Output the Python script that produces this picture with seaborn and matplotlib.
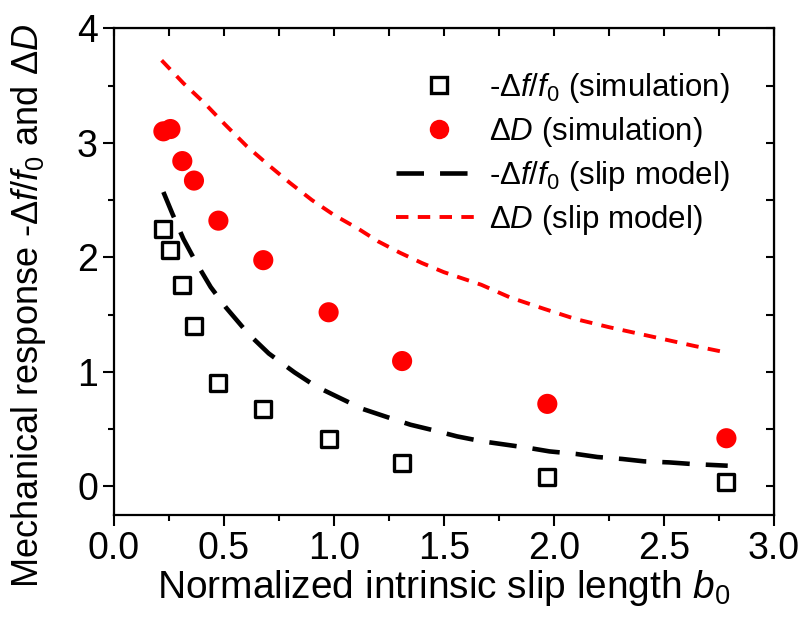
import numpy as np
import pandas as pd
import matplotlib
matplotlib.use("Agg")
import matplotlib.pyplot as plt
import seaborn as sns
from matplotlib.lines import Line2D

# simulation points
b0_sim = [0.225, 0.257, 0.311, 0.364, 0.475, 0.679, 0.976, 1.31, 1.97, 2.784]
df_sim = [2.25, 2.06, 1.76, 1.40, 0.905, 0.672, 0.416, 0.207, 0.085, 0.035]
dD_sim = [3.10, 3.12, 2.84, 2.67, 2.32, 1.975, 1.52, 1.094, 0.72, 0.42]

# slip model curves
b0_df_model = [0.225, 0.266, 0.316, 0.372, 0.44, 0.51, 0.612, 0.704, 0.821, 0.918,
               1.034, 1.132, 1.246, 1.348, 1.46, 1.56, 1.674, 1.887, 1.98, 2.10,
               2.198, 2.31, 2.41, 2.524, 2.626, 2.79]
df_model = [2.57, 2.38, 2.16, 1.96, 1.74, 1.56, 1.33, 1.16, 0.995, 0.873,
            0.765, 0.675, 0.602, 0.538, 0.486, 0.436, 0.393, 0.335, 0.305, 0.283,
            0.256, 0.239, 0.218, 0.209, 0.195, 0.18]

b0_dD_model = [0.217, 0.316, 0.41, 0.505, 0.604, 0.70, 0.80, 0.90, 1.0, 1.11,
               1.20, 1.30, 1.40, 1.50, 1.67, 1.80, 1.955, 2.10, 2.25, 2.44,
               2.64, 2.78]
dD_model = [3.72, 3.52, 3.35, 3.16, 2.97, 2.81, 2.65, 2.50, 2.37, 2.25,
            2.14, 2.04, 1.95, 1.87, 1.76, 1.65, 1.55, 1.46, 1.39, 1.31,
            1.225, 1.17]

lab_df_sim = r"-$\Delta f/f_0$ (simulation)"
lab_dD_sim = r"$\Delta D$ (simulation)"
lab_df_mod = r"-$\Delta f/f_0$ (slip model)"
lab_dD_mod = r"$\Delta D$ (slip model)"

sns.set_style("ticks")
plt.rcParams["font.family"] = ["Liberation Sans", "DejaVu Sans"]
plt.rcParams["mathtext.fontset"] = "custom"
plt.rcParams["mathtext.rm"] = "Liberation Sans"
plt.rcParams["mathtext.it"] = "Liberation Sans:italic"
plt.rcParams["mathtext.bf"] = "Liberation Sans:bold"
for key in ["text.color", "axes.labelcolor", "axes.edgecolor",
            "xtick.color", "ytick.color"]:
    plt.rcParams[key] = "black"

fig = plt.figure(figsize=(8.02, 6.28), dpi=100)
ax = fig.add_axes([0.142, 0.18, 0.823, 0.775])

sim = pd.DataFrame({"b0": b0_sim, "df": df_sim, "dD": dD_sim})
mod_df = pd.DataFrame({"b0": b0_df_model, "df": df_model})
mod_dD = pd.DataFrame({"b0": b0_dD_model, "dD": dD_model})

black_ls = (0, (6.0, 3.5))
red_ls = (0, (3.2, 2.4))

sns.lineplot(data=mod_df, x="b0", y="df", ax=ax, color="black", lw=3.3,
             linestyle=black_ls, legend=False)
sns.lineplot(data=mod_dD, x="b0", y="dD", ax=ax, color="#ff0000", lw=2.8,
             linestyle=red_ls, legend=False)
sns.scatterplot(data=sim, x="b0", y="df", ax=ax, marker="s", s=140,
                facecolor="white", edgecolor="black", linewidth=2.4,
                legend=False, zorder=3)
sns.scatterplot(data=sim, x="b0", y="dD", ax=ax, marker="o", s=210,
                color="#ff0000", edgecolor="none", legend=False, zorder=3)

ax.set_xlim(0, 3.0)
ax.set_ylim(-0.25, 4)
ax.set_xticks(np.arange(0, 3.01, 0.5))
ax.set_xticks(np.arange(0, 3.01, 0.25), minor=True)
ax.set_yticks([0, 1, 2, 3, 4])
ax.set_yticks(np.arange(0, 4.01, 0.5), minor=True)
ax.tick_params(which="major", direction="out", length=8, width=1.5,
               labelsize=27, pad=3.5)
ax.tick_params(which="minor", direction="out", length=4, width=1.5)
ax.xaxis.set_major_formatter(matplotlib.ticker.FormatStrFormatter("%.1f"))
for sp in ax.spines.values():
    sp.set_visible(True)
    sp.set_linewidth(1.6)
    sp.set_color("black")

# mirrored inward ticks on top and right
top = ax.secondary_xaxis("top")
top.set_xticks(np.arange(0, 3.01, 0.5))
top.set_xticks(np.arange(0, 3.01, 0.25), minor=True)
top.tick_params(which="both", direction="in", length=6, width=1.5, labeltop=False)
right = ax.secondary_yaxis("right")
right.set_yticks(np.arange(0, 4.01, 0.5))
right.tick_params(which="both", direction="in", length=6, width=1.5, labelright=False)

ax.set_xlabel(r"Normalized intrinsic slip length $b_0$", fontsize=28, labelpad=1)
ax.set_ylabel(r"Mechanical response -$\Delta f/f_0$ and $\Delta D$", fontsize=26)
ax.yaxis.set_label_coords(-0.10, 0.43)

handles = [
    Line2D([], [], ls="none", marker="s", ms=11, mfc="white", mec="black", mew=2.4),
    Line2D([], [], ls="none", marker="o", ms=14, mfc="#ff0000", mec="none"),
    Line2D([], [], color="black", lw=3.3, linestyle=black_ls),
    Line2D([], [], color="#ff0000", lw=2.8, linestyle=red_ls),
]
ax.legend(handles, [lab_df_sim, lab_dD_sim, lab_df_mod, lab_dD_mod],
          loc="upper right", bbox_to_anchor=(0.962, 0.95), frameon=False,
          fontsize=22.5, handlelength=2.8, handletextpad=0.2, labelspacing=0.32,
          borderaxespad=0.2)

fig.savefig("out.png", dpi=100)
